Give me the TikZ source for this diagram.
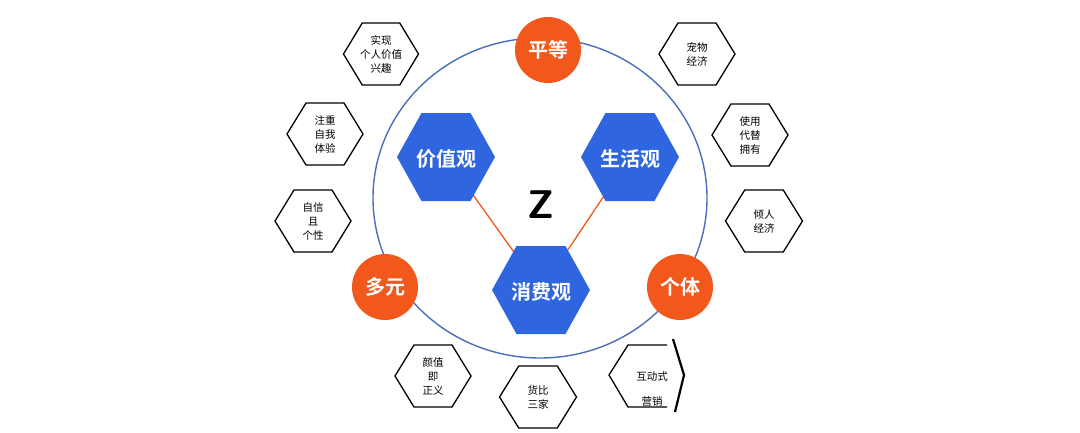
\documentclass[tikz,border=0pt]{standalone}
\usepackage{fontspec}
\newfontfamily\cjk{Noto Sans CJK SC}
\newfontfamily\cjkb{Noto Sans CJK SC Bold}
\definecolor{myblue}{HTML}{2F66E0}
\definecolor{myorange}{HTML}{F2581C}
\definecolor{ringblue}{HTML}{4A6FB8}
\newcommand{\hexpath}[4]{(#1-#3/2,#2) -- (#1-#3/4,#2-#4/2) -- (#1+#3/4,#2-#4/2) -- (#1+#3/2,#2) -- (#1+#3/4,#2+#4/2) -- (#1-#3/4,#2+#4/2) -- cycle}
\tikzset{
  smallhex/.style={draw=black, line width=1.3pt, fill=white},
  bighex/.style={fill=myblue},
  orb/.style={circle, fill=myorange, minimum size=66pt, inner sep=0pt, text=white, font=\cjkb\fontsize{20}{22}\selectfont},
  bigtxt/.style={text=white, font=\cjkb\fontsize{20}{22}\selectfont},
  smtxt/.style={align=center, font=\cjk\fontsize{10.5}{14}\selectfont},
}
\begin{document}
\begin{tikzpicture}[x=1pt,y=-1pt]
\useasboundingbox (0,0) rectangle (1080,432);
\fill[white] (0,0) rectangle (1080,432);
% ring
\draw[ringblue, line width=1.4pt] (540,198) ellipse [x radius=167, y radius=160];
% connectors
\coordinate (cA) at (446,157);
\coordinate (cB) at (630,157);
\coordinate (cC) at (541,290);
\draw[myorange, line width=1.3pt] (cA) -- (cC);
\draw[myorange, line width=1.3pt] (cB) -- (cC);
% big hexagons
\fill[bighex] \hexpath{446}{157}{98}{88};
\fill[bighex] \hexpath{630}{157}{98}{88};
\fill[bighex] \hexpath{541}{290}{98}{88};
\node[bigtxt] (jz) at (446,159) {价值观};
\node[bigtxt] (sh) at (630,159) {生活观};
\node[bigtxt] (xf) at (541,292) {消费观};
\node[font=\sffamily\bfseries\fontsize{40}{40}\selectfont] (z) at (541,205) {Z};
% orbs
\node[orb] (pd) at (548,50) {平等};
\node[orb] (dy) at (385,287) {多元};
\node[orb] (gt) at (680,287) {个体};
% small hexagons
\draw[smallhex] \hexpath{381}{54}{75}{62};
\node[smtxt] (h1) at (381,54) {实现\\个人价值\\兴趣};
\draw[smallhex] \hexpath{325}{134}{76}{62};
\node[smtxt] (h2) at (325,134) {注重\\自我\\体验};
\draw[smallhex] \hexpath{313}{221}{76}{62};
\node[smtxt] (h3) at (313,221) {自信\\且\\个性};
\draw[smallhex] \hexpath{697}{54}{76}{62};
\node[smtxt] (h4) at (697,54) {宠物\\经济};
\draw[smallhex] \hexpath{750}{135}{76}{62};
\node[smtxt] (h5) at (750,135) {使用\\代替\\拥有};
\draw[smallhex] \hexpath{764}{221}{77}{62};
\node[smtxt] (h6) at (764,221) {倾人\\经济};
\draw[smallhex] \hexpath{433}{376}{76}{62};
\node[smtxt] (h7) at (433,376) {颜值\\即\\正义};
\draw[smallhex] \hexpath{538}{397}{77}{62};
\node[smtxt] (h8) at (538,397) {货比\\三家};
% distorted hexagon
\draw[black, line width=1.3pt] (667,345) -- (628,345) -- (609,375) -- (628,407) -- (667,407);
\draw[black, line width=2.2pt] (673,339) -- (684,375) -- (675,412);
\node[smtxt] (h9a) at (652,377) {互动式};
\node[smtxt] (h9b) at (652,402) {营销};
\end{tikzpicture}
\end{document}
